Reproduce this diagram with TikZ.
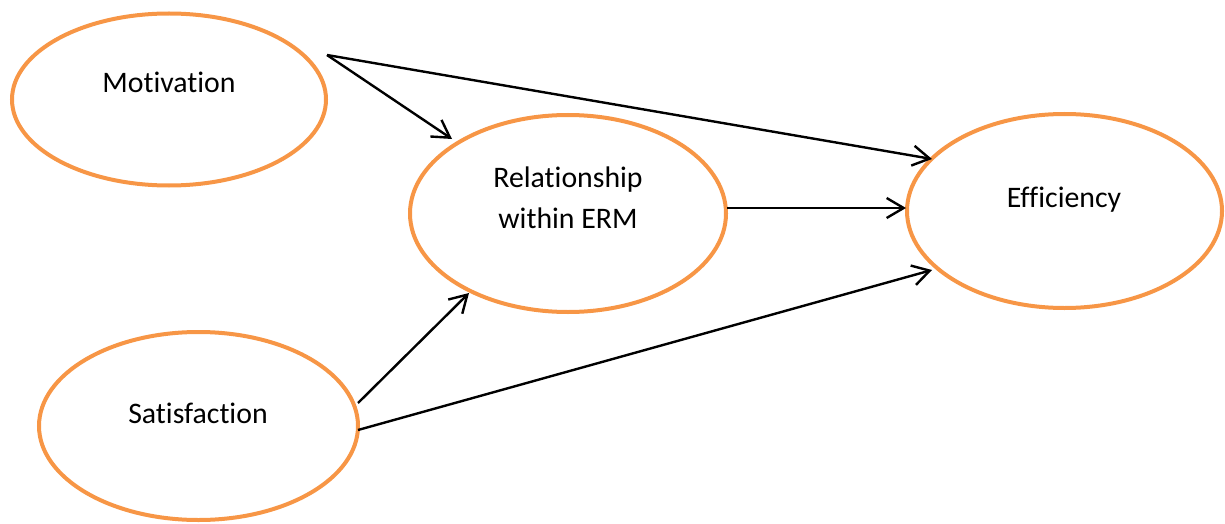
\documentclass[tikz,border=0pt]{standalone}
\usepackage{fontspec}
\setmainfont{Carlito}[Ligatures=NoCommon]
\usetikzlibrary{shapes.geometric,arrows.meta}
\definecolor{ellorange}{HTML}{F79646}
\begin{document}
\begin{tikzpicture}[x=1pt,y=-1pt,
  ell/.style={draw=ellorange,line width=4pt,ellipse,inner sep=0pt},
  lbl/.style={anchor=base,font=\fontsize{29.8}{44}\selectfont,align=center,inner sep=0pt},
  conn/.style={line width=2.4pt,-{Straight Barb[length=17pt,width=20pt]}}]
\useasboundingbox (0,0) rectangle (1225,524);
% ellipses
\node[ell,minimum width=314pt,minimum height=172pt] (mot) at (169,99.5) {};
\node[ell,minimum width=316pt,minimum height=197pt] (rel) at (568,213.5) {};
\node[ell,minimum width=315pt,minimum height=194pt] (eff) at (1064.5,211) {};
\node[ell,minimum width=319pt,minimum height=188pt] (sat) at (198.5,426) {};
% labels
\node[lbl] (motT) at (169,93) {Motivation};
\node[lbl] (relT) at (568,187) {Relationship};
\node[lbl] (relT2) at (568,228) {within ERM};
\node[lbl] (effT) at (1064,207) {Efficiency};
\node[lbl] (satT) at (198,423) {Satisfaction};
% connector end points
\coordinate (motOut) at (327,55);
\coordinate (relIn1) at (452,139);
\coordinate (effIn1) at (932,159);
\coordinate (relOut) at (727,208);
\coordinate (effIn2) at (906,208);
\coordinate (satOut1) at (358,403);
\coordinate (relIn2) at (469,293);
\coordinate (satOut2) at (358,430);
\coordinate (effIn3) at (932,270);
% connectors
\draw[conn] (motOut) -- (relIn1);
\draw[conn] (motOut) -- (effIn1);
\draw[conn] (relOut) -- (effIn2);
\draw[conn] (satOut1) -- (relIn2);
\draw[conn] (satOut2) -- (effIn3);
\end{tikzpicture}
\end{document}
